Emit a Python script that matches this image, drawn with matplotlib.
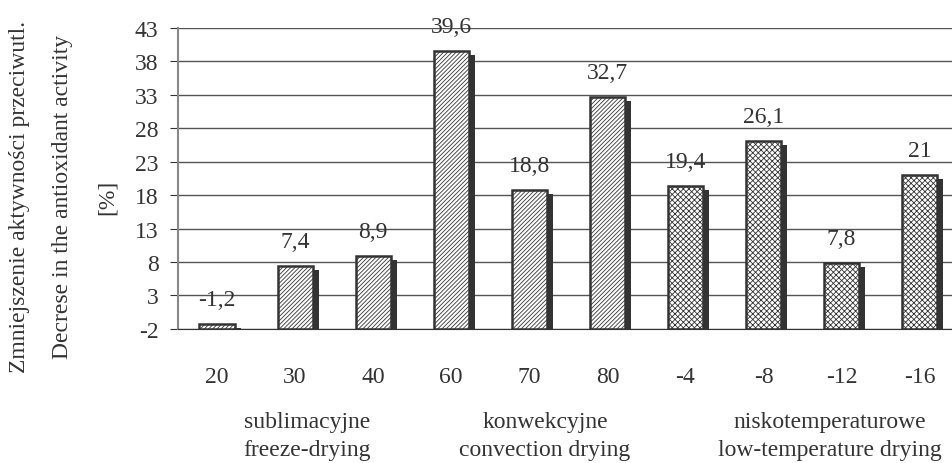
import numpy as np
import matplotlib.pyplot as plt
from matplotlib.patches import Rectangle

# Dane
categories = ['20', '30', '40', '60', '70', '80', '-4', '-8', '-12', '-16']
values = [-1.2, 7.4, 8.9, 39.6, 18.8, 32.7, 19.4, 26.1, 7.8, 21.0]
value_labels = ['-1,2', '7,4', '8,9', '39,6', '18,8', '32,7', '19,4', '26,1', '7,8', '21']
groups = ['sublimacyjne\nfreeze-drying', 'konwekcyjne\nconvection drying',
          'niskotemperaturowe\nlow-temperature drying']
group_of_bar = [0, 0, 0, 1, 1, 1, 2, 2, 2, 2]
yticks = [-2, 3, 8, 13, 18, 23, 28, 33, 38, 43]

plt.rcParams['font.family'] = ['Liberation Serif', 'DejaVu Serif']
plt.rcParams['hatch.linewidth'] = 0.6
plt.rcParams['hatch.color'] = '#999999'

fig = plt.figure(figsize=(9.52, 4.64), dpi=100)
ax = fig.add_axes([0.187, 0.289, 0.82, 0.6485])

ymin, ymax = -2, 43
x = np.arange(len(values))
w = 0.45
hatches = ['////////', '////////', 'xxxxxx']
txt = '#333333'
fs = 17

# cien (efekt 3D) i slupki
for i, v in enumerate(values):
    shadow = Rectangle((i - w / 2 + 0.08, ymin), w, v - ymin - 0.6,
                       facecolor='#333333', edgecolor='none', zorder=2)
    ax.add_patch(shadow)
ax.bar(x, np.array(values) - ymin, bottom=ymin, width=w, color='white',
       edgecolor='#333333', linewidth=1.8,
       hatch=[hatches[g] for g in group_of_bar], zorder=3)

for i, (v, lab) in enumerate(zip(values, value_labels)):
    ax.text(i, v + 2.1, lab, ha='center', va='bottom', fontsize=fs, color=txt)

ax.set_xlim(-0.5, len(values) - 0.5)
ax.set_ylim(ymin, ymax)
ax.set_yticks(yticks)
ax.set_yticklabels([str(t) for t in yticks], fontsize=fs, color=txt)
ax.set_xticks(x)
ax.set_xticklabels(categories, fontsize=fs, color=txt)
ax.tick_params(axis='x', length=0, pad=27)
ax.tick_params(axis='y', length=6, color='#333333', pad=8, direction='out')

ax.yaxis.grid(True, color='#555555', linewidth=1)
ax.set_axisbelow(True)
for s in ['top', 'right']:
    ax.spines[s].set_visible(False)
ax.spines['left'].set_color('#888888')
ax.spines['left'].set_linewidth(1.5)
ax.spines['bottom'].set_color('#333333')

# etykiety grup
group_x = [1.15, 4.2, 7.85]
for gx, g in zip(group_x, groups):
    ax.text(gx, -18.0, g, ha='center', va='center', fontsize=fs,
            color=txt, linespacing=1.45)

# opis osi Y
fig.text(0.021, 0.575, 'Zmniejszenie aktywności przeciwutl.', rotation=90,
         ha='center', va='center', fontsize=fs, color=txt)
fig.text(0.066, 0.575, 'Decrese in the antioxidant activity', rotation=90,
         ha='center', va='center', fontsize=fs, color=txt)
fig.text(0.113, 0.575, '[%]', rotation=90,
         ha='center', va='center', fontsize=fs, color=txt)

fig.savefig('out.png', dpi=100)
